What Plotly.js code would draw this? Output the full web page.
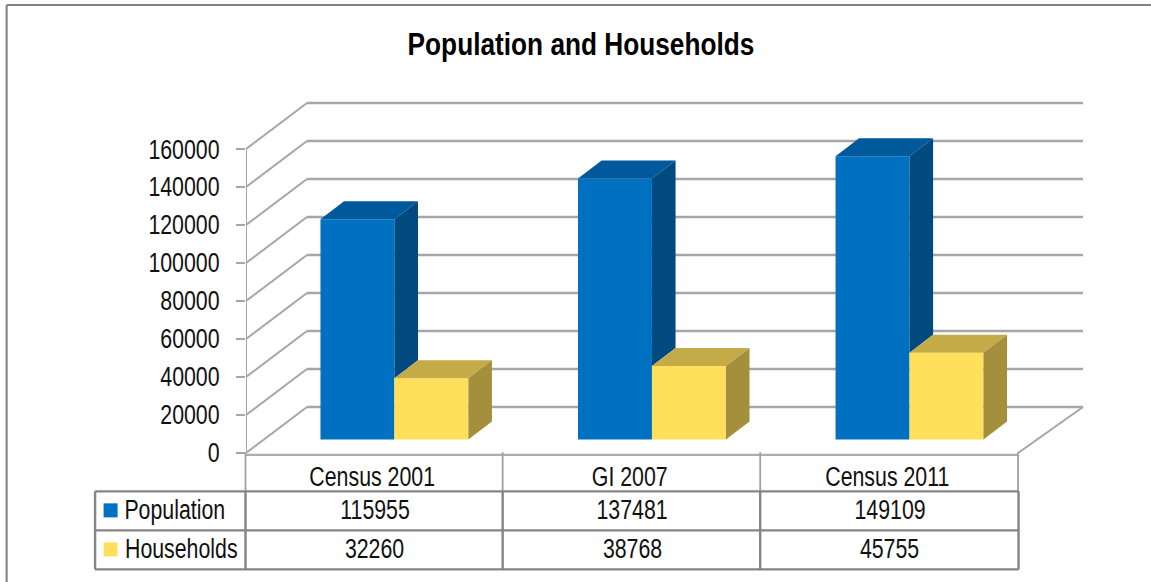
<!DOCTYPE html>
<html>
<head>
<meta charset="utf-8">
<script src="https://cdn.plot.ly/plotly-3.0.1.min.js"></script>
<style>html,body{margin:0;padding:0;background:#fff}#chart{width:1151px;height:582px}</style>
</head>
<body>
<div id="chart"></div>
<script>
// ---- data ----
const categories = ['Census 2001', 'GI 2007', 'Census 2011'];
const population = [115955, 137481, 149109];
const households = [32260, 38768, 45755];
const seriesNames = ['Population', 'Households'];
const tickValues = [0, 20000, 40000, 60000, 80000, 100000, 120000, 140000, 160000];
const chartTitle = 'Population and Households';

// ---- geometry helpers ----
const W = 1151, H = 582;
const plot = {l: 245.5, t: 90, r: 1090, b: 452.7};
const slot = 257.7;                 // px per category
const perPx = 160000 / 303.7;       // value per px
const xr = (plot.r - plot.l) / slot;
const yr = (plot.b - plot.t) * perPx;
const px2x = p => (p - plot.l) / slot;
const dv = d => d * perPx;
const fx = p => (p - plot.l) / (plot.r - plot.l), fy = p => (plot.b - p) / (plot.b - plot.t);

const wallDX = 61 / slot, wallDV = dv(46), wallEnd = px2x(1083);
const barW = 74 / slot, barStart = px2x(320), barBase = dv(13.4);
const depthX = 23.6 / slot, depthV = dv(18);

const FONT = '"Liberation Sans",Arial,sans-serif';
const FS = 27;
const GRID = '#a6a6a6', TABLE = '#858585', TEXT = '#111111';
const C = {
  pop: {front: '#0070c0', top: '#00599a', side: '#004a80'},
  hh:  {front: '#ffdf5c', top: '#c4ab47', side: '#a4903c'}
};

// ---- traces ----
const popX = categories.map((_, i) => i + barStart + barW / 2);
const hhX = popX.map(x => x + barW);
const face = (xs, ys, color) => ({type: 'scatter', mode: 'lines', x: xs, y: ys, fill: 'toself',
  fillcolor: color, line: {width: 0, color: color}, hoverinfo: 'skip', showlegend: false});

const traces = [
  {type: 'bar', x: popX, y: population, base: categories.map(() => barBase), width: barW,
   name: seriesNames[0], marker: {color: C.pop.front, line: {width: 0}}},
  {type: 'bar', x: hhX, y: households, base: categories.map(() => barBase), width: barW,
   name: seriesNames[1], marker: {color: C.hh.front, line: {width: 0}}}
];
categories.forEach((_, i) => {
  const xl = popX[i] - barW / 2, xm = popX[i] + barW / 2, xe = hhX[i] + barW / 2;
  const pt = population[i] + barBase, ht = households[i] + barBase;
  traces.push(face([xl, xl + depthX, xm + depthX, xm, xl], [pt, pt + depthV, pt + depthV, pt, pt], C.pop.top));
  traces.push(face([xm, xm + depthX, xm + depthX, xm, xm], [pt, pt + depthV, ht + depthV, ht, pt], C.pop.side));
  traces.push(face([xm, xm + depthX, xe + depthX, xe, xm], [ht, ht + depthV, ht + depthV, ht, ht], C.hh.top));
  traces.push(face([xe, xe + depthX, xe + depthX, xe, xe], [ht, ht + depthV, barBase + depthV, barBase, ht], C.hh.side));
});

// ---- walls, axis and table frame ----
const shapes = [];
const seg = (x0, y0, x1, y1, color, width) => shapes.push({type: 'line', layer: 'below', xref: 'x', yref: 'y',
  x0, y0, x1, y1, line: {color, width}});
const pseg = (x0, y0, x1, y1, color, width) => shapes.push({type: 'line', layer: 'above', xref: 'paper', yref: 'paper',
  x0: fx(x0), y0: fy(y0), x1: fx(x1), y1: fy(y1), line: {color, width}});

tickValues.forEach(v => {
  seg(0, v, wallDX, v + wallDV, GRID, 2);
  seg(wallDX, v + wallDV, wallEnd, v + wallDV, GRID, 2.4);
});
seg(px2x(1018), 0, wallEnd, wallDV, GRID, 2);
seg(0, 0, 0, 160000, GRID, 2);

// outer frame
pseg(6, 5, W, 5, '#808080', 2);
pseg(6, 5, 6, H, '#808080', 2);

// floor edge + axis-row separators
pseg(245, 454.5, 1018, 454.5, '#adadad', 2.2);
[245, 502.3, 760, 1018].forEach(x => pseg(x, 452, x, 491, '#a0a0a0', 1.8));
[491, 530, 569].forEach(y => pseg(94.5, y, 1018.5, y, TABLE, 2.4));
[94.5, 245, 502.3, 760, 1018.5].forEach(x => pseg(x, 491, x, 569, TABLE, 2.4));

// legend keys
const rowY = [510, 549];
[C.pop.front, C.hh.front].forEach((c, i) => shapes.push({type: 'rect', layer: 'above', xref: 'paper', yref: 'paper',
  x0: fx(103), x1: fx(117), y0: fy(rowY[i] - 7), y1: fy(rowY[i] + 7), fillcolor: c, line: {width: 0}}));

// ---- table text ----
const annotations = [];
const note = (text, x, y, anchor) => annotations.push({text, xref: 'paper', yref: 'paper',
  x: fx(x), y: fy(y), xanchor: anchor, yanchor: 'middle', showarrow: false,
  font: {family: FONT, size: FS, color: TEXT}});
const SQUEEZE = 0.79, TITLE_SQUEEZE = 0.846;
const legendCenters = [174, 180.5];
seriesNames.forEach((n, i) => note(n, legendCenters[i], rowY[i], 'center'));
[population, households].forEach((arr, r) => arr.forEach((v, i) =>
  note(String(v), plot.l + (i + 0.5) * slot, rowY[r], 'center')));

const layout = {
  width: W, height: H,
  paper_bgcolor: '#ffffff', plot_bgcolor: 'rgba(0,0,0,0)',
  margin: {l: plot.l, r: W - plot.r, t: plot.t, b: H - plot.b, pad: 0},
  showlegend: false, barmode: 'overlay', hovermode: false,
  font: {family: FONT, color: TEXT},
  title: {text: '<b>' + chartTitle + '</b>', x: 581 / W, xanchor: 'center', y: 1 - 44 / H, yanchor: 'middle',
    font: {family: FONT, size: 31, color: '#000000'}},
  xaxis: {range: [0, xr], tickmode: 'array', tickvals: categories.map((_, i) => i + 0.49), ticktext: categories,
    showgrid: false, zeroline: false, showline: false, ticks: '', ticklabelstandoff: 5,
    tickfont: {family: FONT, size: FS, color: TEXT}},
  yaxis: {range: [0, yr], tickmode: 'array', tickvals: tickValues, ticktext: tickValues.map(String),
    showgrid: false, zeroline: false, showline: false, ticks: 'outside', ticklen: 9, tickwidth: 2, tickcolor: GRID,
    ticklabelstandoff: 11, tickfont: {family: FONT, size: FS, color: TEXT}},
  shapes, annotations
};
Plotly.newPlot('chart', traces, layout, {displayModeBar: false, responsive: false}).then(gd => {
  // The reference type is horizontally condensed: squeeze the glyphs of the real text nodes.
  gd.querySelectorAll('svg text').forEach(t => {
    if (!t.textContent) return;
    const k = t.classList.contains('gtitle') ? TITLE_SQUEEZE : SQUEEZE;
    t.setAttribute('textLength', (t.getComputedTextLength() * k).toFixed(1));
    t.setAttribute('lengthAdjust', 'spacingAndGlyphs');
  });
});
</script>
</body>
</html>
